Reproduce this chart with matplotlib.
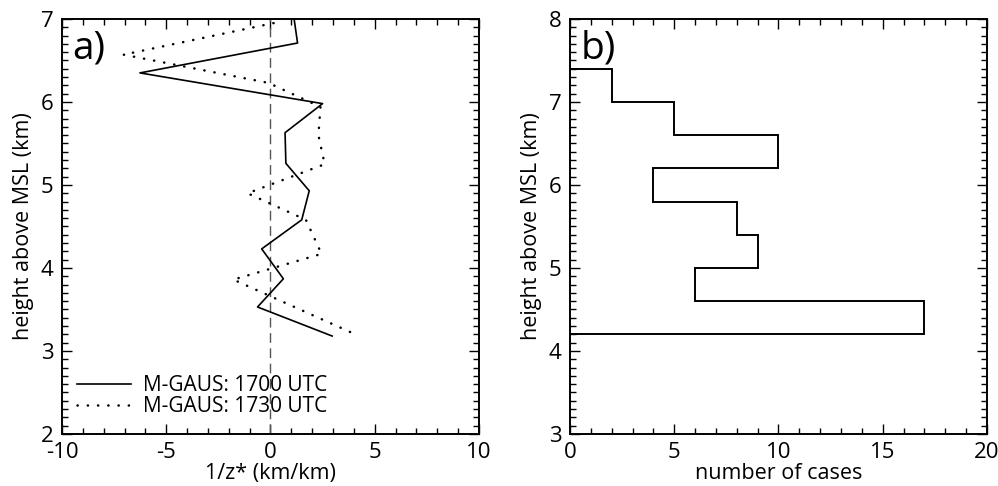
import numpy as np
import matplotlib
matplotlib.use("Agg")
import matplotlib.pyplot as plt
from matplotlib.ticker import MultipleLocator

plt.rcParams["font.family"] = ["Open Sans", "DejaVu Sans"]
plt.rcParams["axes.unicode_minus"] = False

# panel a) profiles of 1/z*
h_1700 = [7.06, 6.71, 6.35, 5.98, 5.63, 5.26, 4.93, 4.58, 4.23, 3.87, 3.53, 3.18]
z_1700 = [1.10, 1.30, -6.26, 2.50, 0.70, 0.74, 1.86, 1.50, -0.42, 0.62, -0.62, 2.96]
h_1730 = [6.95, 6.57, 6.23, 5.94, 5.60, 5.25, 4.90, 4.58, 4.17, 3.86, 3.22]
z_1730 = [0.15, -7.05, -0.10, 2.40, 2.30, 2.60, -1.10, 1.70, 2.45, -1.78, 3.90]

# panel b) histogram of heights
edges = [4.2, 4.6, 5.0, 5.4, 5.8, 6.2, 6.6, 7.0, 7.4]
counts = [17, 6, 9, 8, 4, 10, 5, 2]


def style_axis(ax):
    ax.tick_params(which="both", direction="in", top=True, right=True,
                   labelsize=16, width=1.0)
    ax.tick_params(axis="y", which="both", pad=6)
    ax.tick_params(axis="x", which="both", pad=6)
    ax.tick_params(which="major", length=7)
    ax.tick_params(which="minor", length=4)
    for lab in ax.get_yticklabels():
        lab.set_verticalalignment("center_baseline")
    for sp in ax.spines.values():
        sp.set_linewidth(1.4)


def main():
    fig = plt.figure(figsize=(9.98, 4.86), dpi=100)
    ax1 = fig.add_axes([0.0621, 0.107, 0.4178, 0.854])
    ax2 = fig.add_axes([0.5711, 0.107, 0.4178, 0.854])

    # a)
    ax1.axvline(0, color="#555555", lw=1.0, ls=(0, (7, 4)))
    ax1.plot(z_1700, h_1700, color="black", lw=1.2,
             label="M-GAUS: 1700 UTC")
    ax1.plot(z_1730, h_1730, color="black", lw=1.8, ls=(0, (0.1, 4.0)),
             dash_capstyle="round", label="M-GAUS: 1730 UTC")
    ax1.set_xlim(-10, 10)
    ax1.set_ylim(2, 7)
    ax1.xaxis.set_major_locator(MultipleLocator(5))
    ax1.xaxis.set_minor_locator(MultipleLocator(1))
    ax1.yaxis.set_major_locator(MultipleLocator(1))
    ax1.yaxis.set_minor_locator(MultipleLocator(0.1))
    ax1.set_xlabel("1/z* (km/km)", fontsize=15.5, labelpad=0)
    ax1.set_ylabel("height above MSL (km)", fontsize=15.5, labelpad=5)
    ax1.text(0.025, 0.975, "a)", transform=ax1.transAxes, fontsize=28,
             va="top", ha="left")
    ax1.legend(loc="lower left", bbox_to_anchor=(0.0, 0.005), frameon=False,
               fontsize=15, handlelength=2.6, handletextpad=0.6,
               labelspacing=0.0, borderaxespad=0.3)
    style_axis(ax1)

    # b)
    ax2.stairs(counts, edges, orientation="horizontal", baseline=0,
               color="black", lw=1.4)
    ax2.set_xlim(0, 20)
    ax2.set_ylim(3, 8)
    ax2.xaxis.set_major_locator(MultipleLocator(5))
    ax2.xaxis.set_minor_locator(MultipleLocator(1))
    ax2.yaxis.set_major_locator(MultipleLocator(1))
    ax2.yaxis.set_minor_locator(MultipleLocator(0.1))
    ax2.set_xlabel("number of cases", fontsize=15.5, labelpad=0)
    ax2.set_ylabel("height above MSL (km)", fontsize=15.5, labelpad=5)
    ax2.text(0.025, 0.975, "b)", transform=ax2.transAxes, fontsize=28,
             va="top", ha="left")
    style_axis(ax2)

    fig.savefig("out.png", dpi=100)
    plt.close(fig)


if __name__ == "__main__":
    main()
